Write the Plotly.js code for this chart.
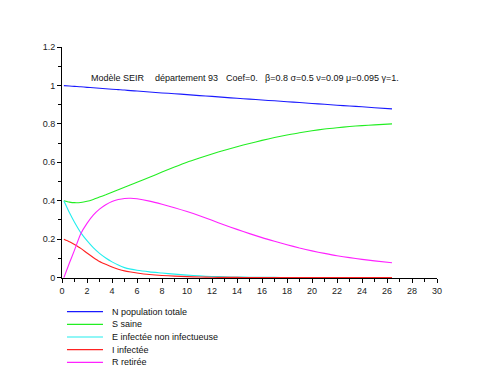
<!DOCTYPE html>
<html>
<head>
<meta charset="utf-8">
<script src="https://cdn.plot.ly/plotly-3.0.1.min.js"></script>
<style>html,body{margin:0;padding:0;background:#fff;}#chart{width:500px;height:377px;}</style>
</head>
<body>
<div id="chart"></div>
<script>
// time (days)
var t = [0.15, 0.6, 1, 1.5, 2, 2.5, 3, 3.5, 4, 4.5, 5, 5.5, 6, 7, 8, 9, 10, 11, 12, 13, 14, 15, 16, 17, 18, 19, 20, 21, 22, 23, 24, 25, 26.4];
// N population totale
var N = [0.999, 0.997, 0.995, 0.993, 0.990, 0.988, 0.985, 0.983, 0.980, 0.978, 0.976, 0.973, 0.971, 0.966, 0.961, 0.957, 0.952, 0.947, 0.943, 0.938, 0.933, 0.929, 0.924, 0.920, 0.915, 0.911, 0.906, 0.902, 0.897, 0.893, 0.889, 0.884, 0.878];
// S saine
var S = [0.400, 0.393, 0.390, 0.391, 0.397, 0.407, 0.419, 0.431, 0.444, 0.457, 0.470, 0.483, 0.496, 0.522, 0.549, 0.575, 0.600, 0.622, 0.643, 0.663, 0.681, 0.698, 0.714, 0.729, 0.742, 0.754, 0.764, 0.773, 0.780, 0.786, 0.791, 0.795, 0.800];
// E infectée non infectueuse
var E = [0.400, 0.337, 0.288, 0.234, 0.192, 0.156, 0.126, 0.102, 0.082, 0.065, 0.052, 0.044, 0.038, 0.030, 0.024, 0.018, 0.013, 0.009, 0.006, 0.004, 0.003, 0.002, 0.001, 0.001, 0, 0, 0, 0, 0, 0, 0, 0, 0];
// I infectée
var I = [0.200, 0.187, 0.172, 0.152, 0.128, 0.105, 0.084, 0.069, 0.055, 0.044, 0.035, 0.029, 0.024, 0.016, 0.011, 0.008, 0.005, 0.003, 0.002, 0.001, 0.001, 0, 0, 0, 0, 0, 0, 0, 0, 0, 0, 0, 0];
// R retirée
var R = [0.000, 0.077, 0.143, 0.228, 0.282, 0.325, 0.356, 0.379, 0.396, 0.406, 0.412, 0.413, 0.410, 0.398, 0.382, 0.364, 0.344, 0.322, 0.298, 0.274, 0.251, 0.229, 0.208, 0.189, 0.171, 0.154, 0.139, 0.126, 0.114, 0.104, 0.095, 0.087, 0.077];

var seriesNames = ["N population totale", "S saine", "E infectée non infectueuse", "I infectée", "R retirée"];
var seriesColors = ["#1a1aff", "#22ee22", "#22eeee", "#ff2222", "#ff22ff"];
var seriesValues = [N, S, E, I, R];

var titleParts = ["Modèle SEIR", "département 93", "Coef=0.", "β=0.8 σ=0.5 ν=0.09 μ=0.095 γ=1."];

var xTicks = [0, 2, 4, 6, 8, 10, 12, 14, 16, 18, 20, 22, 24, 26, 28, 30];
var yTicks = [0, 0.2, 0.4, 0.6, 0.8, 1, 1.2];
var yTickText = ["0", "0.2", "0.4", "0.6", "0.8", "1", "1.2"];

var traces = seriesValues.map(function (vals, i) {
  return {
    x: t, y: vals, type: 'scatter', mode: 'lines', name: seriesNames[i],
    line: {color: seriesColors[i], width: 1.1, shape: 'spline', smoothing: 0.6},
    showlegend: false, hoverinfo: 'skip'
  };
});

var FONT = 'Liberation Sans, Arial, sans-serif';
var annotations = [];
var shapes = [];
var titleX = [0.0747, 0.2453, 0.4347, 0.5387];
titleParts.forEach(function (txt, i) {
  annotations.push({xref: 'paper', yref: 'paper', x: titleX[i], y: 0.8645, xanchor: 'left', yanchor: 'middle',
    text: txt, showarrow: false, borderpad: 0, font: {family: FONT, size: 9, color: '#111'}});
});
var legY = [-0.1459, -0.2004, -0.2554, -0.3104, -0.3649];
seriesNames.forEach(function (nm, i) {
  shapes.push({type: 'line', xref: 'paper', yref: 'paper', x0: 0.0133, x1: 0.1093, y0: legY[i], y1: legY[i],
    line: {color: seriesColors[i], width: 1.2}});
  annotations.push({xref: 'paper', yref: 'paper', x: 0.1299, y: legY[i], xanchor: 'left', yanchor: 'middle',
    text: nm, showarrow: false, borderpad: 0, font: {family: FONT, size: 9, color: '#111'}});
});

var layout = {
  width: 500, height: 377,
  margin: {l: 62, r: 63, t: 47, b: 99, pad: 0},
  paper_bgcolor: '#fff', plot_bgcolor: '#fff',
  showlegend: false,
  font: {family: FONT, size: 9, color: '#333'},
  xaxis: {
    range: [0, 30], tickvals: xTicks, ticktext: xTicks.map(String), showgrid: false, zeroline: false,
    showline: true, linecolor: '#000', linewidth: 1, ticks: 'outside', ticklen: 4, tickcolor: '#000',
    tickfont: {family: FONT, size: 9, color: '#222'}, layer: 'below traces',
    minor: {dtick: 1, tick0: 0, ticks: 'outside', ticklen: 3, tickcolor: '#000', showgrid: false}
  },
  yaxis: {
    range: [-0.002, 1.2], tickvals: yTicks, ticktext: yTickText, showgrid: false, zeroline: false,
    showline: true, linecolor: '#000', linewidth: 1, ticks: 'outside', ticklen: 4, tickcolor: '#000',
    tickfont: {family: FONT, size: 9, color: '#222'}, layer: 'below traces',
    minor: {dtick: 0.1, tick0: 0, ticks: 'outside', ticklen: 3, tickcolor: '#000', showgrid: false}
  },
  annotations: annotations,
  shapes: shapes
};

Plotly.newPlot('chart', traces, layout, {staticPlot: true, displayModeBar: false});
</script>
</body>
</html>
